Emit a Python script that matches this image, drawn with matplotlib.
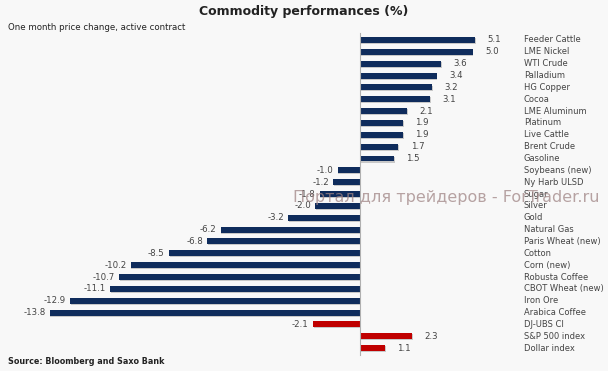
import numpy as np
import matplotlib
matplotlib.use("Agg")
import matplotlib.pyplot as plt

names = ["Feeder Cattle", "LME Nickel", "WTI Crude", "Palladium", "HG Copper", "Cocoa",
         "LME Aluminum", "Platinum", "Live Cattle", "Brent Crude", "Gasoline",
         "Soybeans (new)", "Ny Harb ULSD", "Sugar", "Silver", "Gold", "Natural Gas",
         "Paris Wheat (new)", "Cotton", "Corn (new)", "Robusta Coffee", "CBOT Wheat (new)",
         "Iron Ore", "Arabica Coffee", "DJ-UBS CI", "S&P 500 index", "Dollar index"]
values = [5.1, 5.0, 3.6, 3.4, 3.2, 3.1, 2.1, 1.9, 1.9, 1.7, 1.5,
          -1.0, -1.2, -1.8, -2.0, -3.2, -6.2, -6.8, -8.5, -10.2, -10.7, -11.1,
          -12.9, -13.8, -2.1, 2.3, 1.1]
benchmarks = ["DJ-UBS CI", "S&P 500 index", "Dollar index"]

navy = "#0f2c5c"
red = "#c00000"
bg = "#f8f8f8"

fig = plt.figure(figsize=(6.08, 3.71), dpi=100, facecolor=bg)
ax = fig.add_axes([0, 0, 1, 1], facecolor=bg)

# pixel layout: zero at x=360, 22.5 px per unit; rows start y=40, 11.85 px apart
ax.set_xlim(-360 / 22.5, (608 - 360) / 22.5)
ax.set_ylim((371 - 40) / 11.85, -40 / 11.85)
ax.axis("off")

y = np.arange(len(names))
colors = [red if n in benchmarks else navy for n in names]

ax.barh(y + 0.09, values, height=0.5, left=0.04, color="#9a9a9a", alpha=0.5, zorder=1)
ax.barh(y, values, height=0.5, color=colors, zorder=2)
ax.plot([0, 0], [-0.6, len(names) - 0.4], color="#b0b0b0", lw=0.8, zorder=3)

for yi, v, n in zip(y, values, names):
    if v >= 0:
        ax.annotate(f"{v:.1f}", (v, yi), xytext=(9, 0), textcoords="offset points",
                    ha="left", va="center", fontsize=6.2, color="#444444")
    else:
        ax.annotate(f"{v:.1f}", (v, yi), xytext=(-3, 0), textcoords="offset points",
                    ha="right", va="center", fontsize=6.2, color="#444444")
    ax.text((524 - 360) / 22.5, yi, n, ha="left", va="center", fontsize=6.0, color="#444444")

fig.text(304 / 608, 1 - 12 / 371, "Commodity performances (%)", ha="center", va="center",
         fontsize=9, fontweight="bold", color="#222222")
fig.text(8 / 608, 1 - 28 / 371, "One month price change, active contract", ha="left",
         va="center", fontsize=6.2, color="#222222")
fig.text(8 / 608, 1 - 361 / 371, "Source: Bloomberg and Saxo Bank", ha="left", va="center",
         fontsize=5.8, fontweight="bold", color="#222222")
fig.text(293 / 608, 1 - 197 / 371, "Портал для трейдеров - ForTrader.ru", ha="left",
         va="center", fontsize=11.5, color="#a08585", alpha=0.75)

fig.savefig("out.png", dpi=100, facecolor=bg)
